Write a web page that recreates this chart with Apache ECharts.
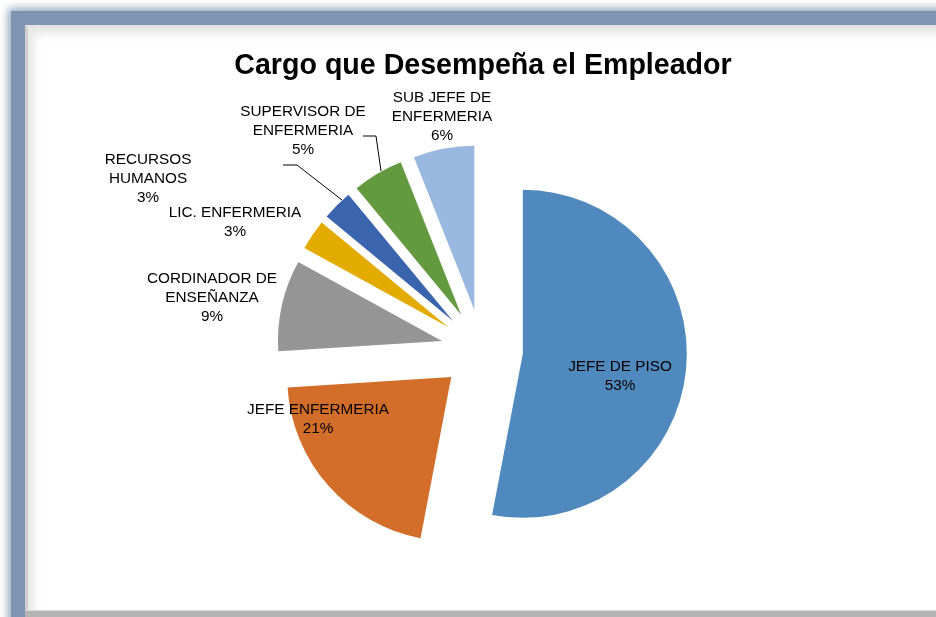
<!DOCTYPE html>
<html>
<head>
<meta charset="utf-8">
<script src="https://cdn.jsdelivr.net/npm/echarts@6/dist/echarts.min.js"></script>
<style>
    html, body { margin: 0; padding: 0; background: #fff; overflow: hidden; }
    body { width: 936px; height: 617px; position: relative; }
    .frame {
        position: absolute; left: 11px; top: 11px; width: 960px; height: 640px;
        background: #7e94b1;
        box-shadow: 0 0 8px 3px rgba(126, 148, 177, 0.8);
    }
    .bottom-strip {
        position: absolute; left: 25px; top: 610px; width: 960px; height: 10px;
        background: #b4b4b4;
        border-top: 1px solid #d8d8d8;
    }
    .panel {
        position: absolute; left: 25px; top: 25px; width: 940px; height: 585px;
        background: #fff;
        border-left: 3px solid #d0d0d0; border-top: 3px solid #e4e4e4;
        box-sizing: border-box;
        box-shadow: inset 6px 6px 10px rgba(0, 0, 0, 0.10);
    }
    #chart { position: absolute; left: 0; top: 0; width: 936px; height: 617px; }
</style>
</head>
<body>
<div class="frame"></div>
<div class="bottom-strip"></div>
<div class="panel"></div>
<div id="chart"></div>
<script>
// categories and values (percent of employers)
const cargos = [
    "JEFE DE PISO",
    "JEFE ENFERMERIA",
    "CORDINADOR DE\nENSEÑANZA",
    "LIC. ENFERMERIA",
    "RECURSOS\nHUMANOS",
    "SUPERVISOR DE\nENFERMERIA",
    "SUB JEFE DE\nENFERMERIA"
];
const porcentajes = [53, 21, 9, 3, 3, 5, 6];
const colores = ["#4f89bd", "#d36e2a", "#959595", "#e3ab00", "#3a64ad", "#639a3f", "#98b8df"];

// label placement (Excel style), centre of each label block
const labelPos = [[620, 376], [318, 419], [212, 298], [235, 222], [148, 179], [303, 131], [442, 117]];
const leaderLines = [
    [[283, 165], [297, 165], [342, 200]],
    [[363, 136], [376, 136], [381, 171]]
];

const fontFam = "Liberation Sans, Arial, sans-serif";
const total = porcentajes.reduce((a, b) => a + b, 0);

const chart = echarts.init(document.getElementById("chart"));

const pieData = cargos.map((name, i) => ({
    name: name,
    value: porcentajes[i],
    selected: true,
    itemStyle: { color: colores[i] }
}));

// labels drawn as text so they stay where Excel put them
const labelGraphics = cargos.map((name, i) => ({
    type: "text",
    x: labelPos[i][0],
    y: labelPos[i][1],
    z: 100,
    style: {
        text: name + "\n" + Math.round(porcentajes[i] / total * 100) + "%",
        align: "center",
        verticalAlign: "middle",
        font: "15.3px " + fontFam,
        lineHeight: 19,
        fill: "#000"
    }
}));
const lineGraphics = leaderLines.map((pts) => ({
    type: "polyline",
    z: 100,
    shape: { points: pts },
    style: { stroke: "#000", lineWidth: 1, fill: null }
}));

chart.setOption({
    animation: false,
    title: {
        text: "Cargo que Desempeña el Empleador",
        left: 478,
        top: 47,
        textAlign: "center",
        textStyle: {
            fontFamily: fontFam,
            fontSize: 28.6,
            fontWeight: "bold",
            color: "#000"
        }
    },
    graphic: labelGraphics.concat(lineGraphics),
    series: [{
        type: "pie",
        center: [482, 350],
        radius: 164,
        startAngle: 90,
        clockwise: true,
        selectedMode: "multiple",
        selectedOffset: 41,
        avoidLabelOverlap: false,
        emphasis: { disabled: true },
        label: { show: false },
        labelLine: { show: false },
        data: pieData
    }]
});
</script>
</body>
</html>
